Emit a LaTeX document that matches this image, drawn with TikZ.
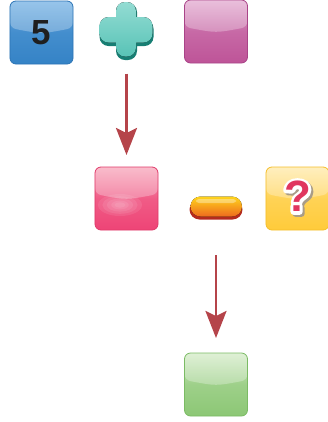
\documentclass[tikz,border=0pt]{standalone}
\usepackage{fontspec}
\setmainfont{Liberation Sans}
\usetikzlibrary{arrows.meta}
\definecolor{arrowred}{HTML}{B5444A}
\definecolor{blueT}{HTML}{6FAEE3}\definecolor{blueB}{HTML}{3583C6}\definecolor{blueD}{HTML}{2C74B5}
\definecolor{pinkT}{HTML}{E2A8CF}\definecolor{pinkB}{HTML}{BE5498}\definecolor{pinkD}{HTML}{A94488}
\definecolor{redT}{HTML}{F7A3B8}\definecolor{redB}{HTML}{EE4476}\definecolor{redD}{HTML}{E03A6A}
\definecolor{yelT}{HTML}{FFE9A6}\definecolor{yelB}{HTML}{FFCB3A}\definecolor{yelD}{HTML}{F5BE2A}
\definecolor{grnT}{HTML}{D3EBC6}\definecolor{grnB}{HTML}{8CC775}\definecolor{grnD}{HTML}{7BBB64}
\definecolor{tealT}{HTML}{93DCD3}\definecolor{tealL}{HTML}{58C3B6}\definecolor{tealD}{HTML}{177E73}
\definecolor{orT}{HTML}{FFD51C}\definecolor{orB}{HTML}{EE6A1E}\definecolor{orD}{HTML}{B52A1E}
\definecolor{qred}{HTML}{E0365F}
\definecolor{qshadow}{HTML}{A89C86}
\tikzset{
  gbox/.style n args={3}{rectangle, rounded corners=6bp, minimum width=63bp, minimum height=63bp,
    outer sep=0pt, draw=#3, line width=0.8bp, top color=#1, bottom color=#2, middle color=#2!75!#1,
    path picture={
      \fill[white,opacity=0.28] (path picture bounding box.north west) -- (path picture bounding box.north east)
        -- ([yshift=-27bp]path picture bounding box.north east)
        .. controls ([yshift=-33bp]path picture bounding box.north) .. ([yshift=-27bp]path picture bounding box.north west) -- cycle;
    }},
  arr/.style={draw=arrowred, line width=2.6bp, -{Stealth[length=27bp, width=21bp, inset=5bp]}},
  qfont/.style={font=\fontsize{44}{44}\selectfont\bfseries},
}
\newcommand{\strokedq}[1]{\makebox[0pt][l]{\special{pdf:literal 2 Tr 6 w 1 J 1 j #1 RG}?\special{pdf:literal 0 Tr}}}
\begin{document}
\begin{tikzpicture}[x=1bp,y=-1bp]
\useasboundingbox (0,0) rectangle (328,422);
% row 1
\node[gbox={blueT}{blueB}{blueD}] (five) at (41.5,32.5) {};
\node[text=black!88, font=\fontsize{35}{35}\selectfont\bfseries] at (41.5,32.5) {5};
\node[minimum width=56bp, minimum height=58bp, outer sep=0pt, inner sep=0pt] (plus) at (126.5,30.5) {};
\begin{scope}[shift={(126.5,30.5)}]
  \fill[tealD, rounded corners=9bp] (-27,-11) rectangle (27,15.5) (-10.5,-27.5) rectangle (10.5,29.5);
  \fill[top color=tealT, bottom color=tealL, rounded corners=9bp] (-27,-13.5) rectangle (26,12) (-10.5,-28.5) rectangle (9.5,26);
\end{scope}
\node[gbox={pinkT}{pinkB}{pinkD}] (pink) at (216,31.5) {};
% row 2
\node[gbox={redT}{redB}{redD}] (red) at (126.5,198.5) {};
\foreach \r in {1,0.8,0.6,0.4,0.25} {\fill[white, opacity=0.09] (120,205) ellipse ({22*\r} and {11*\r});}
\node[rectangle, rounded corners=11bp, minimum width=53bp, minimum height=22bp, outer sep=0pt, inner sep=0pt] (minus) at (216,208) {};
\fill[orD, rounded corners=10bp] (189.5,199.5) rectangle (242.5,219.5);
\fill[top color=orT, bottom color=orB, rounded corners=10bp] (190.5,196.5) rectangle (242,216.5);
\fill[white, opacity=0.35, rounded corners=3bp] (196,199) rectangle (236,203);
\node[gbox={yelT}{yelB}{yelD}] (quest) at (297.5,198.5) {};
\node[qfont, text=qred] (qm) at (297.5,197.5) {\makebox[0pt][l]{\hspace{2bp}\raisebox{-2bp}{\color{qshadow}\strokedq{0.66 0.61 0.53}}}\textcolor{white}{\strokedq{1 1 1}}?};
% row 3
\node[gbox={grnT}{grnB}{grnD}] (green) at (216,384.5) {};
% arrows
\draw[arr, shorten <=14bp, shorten >=12bp] (plus.south) -- (red.north);
\draw[arr, shorten <=36bp, shorten >=15bp] (minus.south) -- (green.north);
\end{tikzpicture}
\end{document}
